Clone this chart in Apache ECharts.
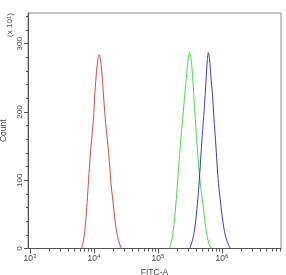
<!DOCTYPE html>
<html lang="en">
<head>
    <meta charset="UTF-8">
    <title>FITC-A histogram</title>
    <style>
        *{ margin:0; padding:0; }
        #box{ width:286px; height:275px; }
    </style>
    <script src="https://cdn.jsdelivr.net/npm/echarts@6/dist/echarts.min.js"></script>
</head>
<body>
    <div id="box"></div>
    <script>
        // x values are log10(FITC-A), y values are Count (x 10^1)
        var redX = [3.805,3.828,3.852,3.875,3.898,3.922,3.945,3.969,3.992,4.016,4.039,4.063,4.083,4.102,4.125,4.148,4.172,4.195,4.219,4.242,4.266,4.289,4.313,4.336,4.359,4.383,4.406,4.430];
        var redY = [0,8,22,45,75,110,140,165,190,230,258,278,284,276,255,225,195,172,150,125,95,75,55,35,22,12,5,0];

        var greenX = [5.180,5.203,5.227,5.250,5.273,5.297,5.320,5.344,5.367,5.391,5.414,5.438,5.461,5.492,5.516,5.539,5.563,5.586,5.609,5.633,5.656,5.680,5.703,5.727,5.750,5.773,5.797,5.828];
        var greenY = [0,8,18,35,58,85,115,145,170,195,220,245,268,287,278,255,220,185,155,125,100,80,65,45,28,16,7,0];

        var blueX = [5.495,5.516,5.539,5.563,5.586,5.609,5.633,5.656,5.680,5.703,5.727,5.750,5.770,5.786,5.805,5.828,5.852,5.875,5.898,5.922,5.945,5.969,5.992,6.016,6.039,6.063,6.086,6.109,6.133];
        var blueY = [0,5,12,22,38,58,85,115,150,180,210,245,275,287,278,250,225,190,160,125,95,75,55,38,25,15,9,4,0];

        var xTickExps = [3, 4, 5, 6];
        var yTicks = [0, 100, 200, 300];

        function pairs(xs, ys){
            var out = [];
            for(var i = 0; i < xs.length; i++){
                out.push([xs[i], ys[i]]);
            }
            return out;
        }

        // minor log ticks 2..9 within each decade
        var xMin = 2.969, xMax = 6.922;
        var minorTicks = [];
        for(var d = 2; d <= 6; d++){
            for(var k = 2; k <= 9; k++){
                var v = d + Math.log10(k);
                if(v >= xMin && v <= xMax) minorTicks.push(v);
            }
        }

        var myChart = echarts.init(document.getElementById('box'));
        var labelFont = 'Liberation Sans';
        var option = {
            animation: false,
            grid: {
                left: 28, top: 13, right: 5, bottom: 26.5,
                outerBoundsMode: 'none',
                containLabel: false,
                show: true, borderColor: '#888', borderWidth: 1
            },
            graphic: [{
                type: 'text',
                x: 10, y: 25,
                rotation: Math.PI / 2,
                style: {
                    text: '(x 10{s|1})',
                    font: '8px ' + labelFont,
                    fill: '#555',
                    align: 'center',
                    verticalAlign: 'middle',
                    rich: { s: { fontSize: 6, verticalAlign: 'top', fill: '#555', fontFamily: labelFont } }
                }
            }],
            xAxis: [{
                type: 'value',
                min: xMin, max: xMax,
                name: 'FITC-A',
                nameLocation: 'middle',
                nameGap: 19,
                nameTextStyle: { fontSize: 8.5, color: '#444', fontFamily: labelFont },
                splitLine: { show: false },
                axisLine: { lineStyle: { color: '#555' } },
                axisTick: { length: 5, customValues: xTickExps, lineStyle: { color: '#555' } },
                axisLabel: {
                    customValues: xTickExps,
                    margin: 5,
                    formatter: function(v){ return '{b|10}{s|' + Math.round(v) + '}'; },
                    rich: {
                        b: { fontSize: 8.5, color: '#444', fontFamily: labelFont },
                        s: { fontSize: 6, color: '#444', fontFamily: labelFont, verticalAlign: 'top', padding: [0, 0, 5, 0] }
                    }
                }
            }, {
                type: 'value',
                min: xMin, max: xMax,
                position: 'bottom',
                splitLine: { show: false },
                axisLine: { show: false },
                axisLabel: { show: false },
                axisTick: { length: 3, customValues: minorTicks, lineStyle: { color: '#555' } }
            }],
            yAxis: {
                type: 'value',
                min: 0, max: 345, interval: 100,
                name: 'Count',
                nameLocation: 'middle',
                nameGap: 16,
                nameTextStyle: { fontSize: 8.5, color: '#444', fontFamily: labelFont },
                splitLine: { show: false },
                axisLine: { show: true, lineStyle: { color: '#555' } },
                axisTick: { show: true, length: 4, customValues: yTicks, lineStyle: { color: '#555' } },
                minorTick: { show: true, splitNumber: 5, length: 2, lineStyle: { color: '#555' } },
                axisLabel: {
                    customValues: yTicks,
                    rotate: 90, margin: 4,
                    fontSize: 8, color: '#444', fontFamily: labelFont
                }
            },
            series: [
                { type: 'line', data: pairs(redX, redY), smooth: 0.3, symbol: 'none',
                  lineStyle: { color: '#e04444', width: 1 } },
                { type: 'line', data: pairs(greenX, greenY), smooth: 0.3, symbol: 'none',
                  lineStyle: { color: '#44dd44', width: 1 } },
                { type: 'line', data: pairs(blueX, blueY), smooth: 0.3, symbol: 'none',
                  lineStyle: { color: '#3b3bc8', width: 1 } }
            ]
        };
        myChart.setOption(option);
    </script>
</body>
</html>
